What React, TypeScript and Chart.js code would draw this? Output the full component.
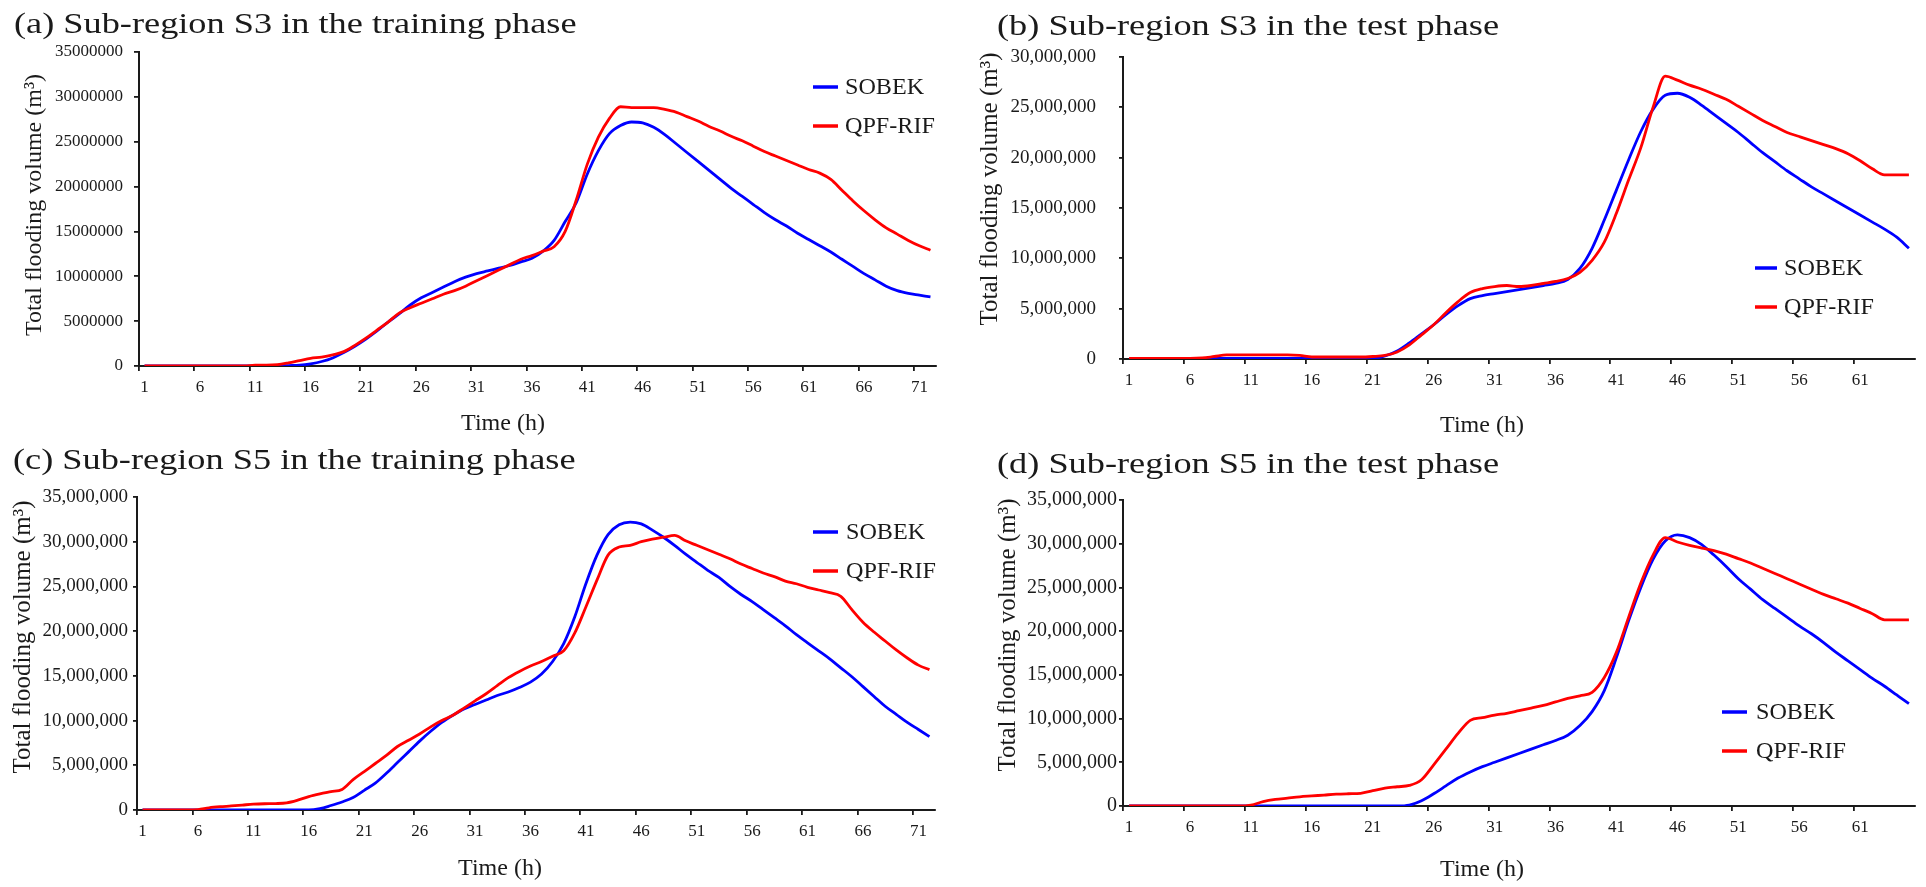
import React, { useEffect, useRef } from 'react';
import { Chart, registerables } from 'chart.js';

Chart.register(...registerables);

const M = 1e6;

const hours72 = Array.from({ length: 72 }, (_, i) => String(i + 1));
const hours65 = Array.from({ length: 65 }, (_, i) => String(i + 1));

// (a) Sub-region S3, training phase (million m3)
const sobekS3Train = [0,0,0,0,0,0,0,0,0,0,0,0,0,0.05,0.1,0.25,0.5,0.9,1.5,2.2,3.0,3.9,4.9,5.8,6.8,7.6,8.2,8.8,9.4,9.9,10.3,10.6,10.9,11.2,11.6,12.0,12.8,14.0,16.1,18.2,21.4,24.0,25.9,26.8,27.2,27.1,26.6,25.8,24.8,23.8,22.8,21.8,20.8,19.8,18.9,18.0,17.1,16.3,15.6,14.8,14.1,13.4,12.7,11.9,11.1,10.3,9.6,8.9,8.4,8.1,7.9,7.7];
const qpfS3Train = [0,0,0,0,0,0,0,0,0,0,0.1,0.1,0.15,0.35,0.6,0.85,1.0,1.25,1.6,2.3,3.1,4.0,4.9,5.9,6.5,7.0,7.5,8.0,8.4,8.9,9.5,10.1,10.7,11.3,11.9,12.3,12.8,13.3,15.0,18.5,22.5,25.5,27.6,28.9,28.8,28.8,28.8,28.6,28.3,27.8,27.3,26.7,26.2,25.6,25.1,24.5,23.9,23.4,22.9,22.4,21.9,21.5,20.8,19.6,18.4,17.3,16.3,15.4,14.7,14.0,13.4,12.9];

// (b) Sub-region S3, test phase
const sobekS3Test = [0,0,0,0,0,0,0.05,0.05,0.05,0.05,0.05,0.05,0.05,0.05,0.05,0.05,0.05,0.05,0.05,0.05,0.05,0.3,0.8,1.6,2.5,3.4,4.4,5.3,6.0,6.3,6.5,6.7,6.9,7.1,7.3,7.5,7.9,9.0,11.0,13.8,16.8,19.8,22.6,24.8,26.2,26.4,26.0,25.2,24.3,23.4,22.5,21.5,20.5,19.6,18.7,17.9,17.1,16.4,15.7,15.0,14.3,13.6,12.9,12.1,11.0];
const qpfS3Test = [0.05,0.05,0.05,0.05,0.05,0.05,0.1,0.25,0.4,0.4,0.4,0.4,0.4,0.4,0.35,0.2,0.2,0.2,0.2,0.2,0.25,0.35,0.7,1.4,2.4,3.4,4.6,5.7,6.6,7.0,7.2,7.3,7.2,7.3,7.5,7.7,8.0,8.6,9.8,11.6,14.5,17.8,21.0,25.0,28.1,27.7,27.2,26.8,26.3,25.8,25.1,24.4,23.7,23.1,22.5,22.1,21.7,21.3,20.9,20.4,19.7,18.9,18.3,18.3,18.3];

// (c) Sub-region S5, training phase
const sobekS5Train = [0,0,0,0,0,0,0,0,0,0,0,0,0,0,0,0,0.15,0.5,0.9,1.4,2.2,3.0,4.1,5.3,6.5,7.7,8.8,9.8,10.6,11.3,11.8,12.3,12.8,13.2,13.7,14.3,15.2,16.6,18.6,21.6,25.3,28.5,30.8,31.9,32.2,32.0,31.3,30.5,29.6,28.6,27.7,26.8,26.0,25.0,24.1,23.3,22.4,21.5,20.6,19.6,18.7,17.8,16.9,15.9,14.9,13.8,12.7,11.6,10.7,9.8,9.0,8.2];
const qpfS5Train = [0,0,0,0,0,0.05,0.25,0.37,0.45,0.55,0.65,0.7,0.72,0.8,1.1,1.5,1.8,2.05,2.3,3.4,4.3,5.2,6.1,7.1,7.8,8.5,9.3,10.0,10.6,11.4,12.2,13.0,13.9,14.8,15.5,16.1,16.6,17.2,17.8,19.8,22.7,25.7,28.5,29.4,29.6,30.0,30.3,30.5,30.7,30.1,29.6,29.1,28.6,28.1,27.5,27.0,26.5,26.1,25.6,25.3,24.9,24.6,24.3,23.9,22.4,21.0,19.9,18.9,17.9,17.0,16.2,15.7];

// (d) Sub-region S5, test phase
const sobekS5Test = [0,0,0,0,0,0,0,0,0,0,0,0,0,0,0,0,0,0,0,0,0,0,0,0.1,0.6,1.4,2.3,3.2,3.9,4.5,5.0,5.5,6.0,6.5,7.0,7.5,8.1,9.2,10.8,13.2,17.0,21.2,25.0,28.2,30.3,31.0,30.7,29.9,28.7,27.4,26.0,24.8,23.6,22.6,21.6,20.6,19.7,18.7,17.6,16.6,15.6,14.6,13.7,12.7,11.7];
const qpfS5Test = [0,0,0,0,0,0,0,0,0,0,0.1,0.5,0.75,0.9,1.05,1.15,1.25,1.35,1.4,1.45,1.75,2.05,2.2,2.35,3.0,4.7,6.5,8.3,9.8,10.1,10.4,10.6,10.9,11.2,11.5,11.9,12.3,12.6,13.0,14.7,17.6,21.6,25.5,28.7,30.7,30.2,29.8,29.5,29.2,28.8,28.3,27.8,27.2,26.6,26.0,25.4,24.8,24.2,23.7,23.2,22.6,22.0,21.3,21.3,21.3];

const yTicks35 = [0, 5, 10, 15, 20, 25, 30, 35];
const yTicks30 = [0, 5, 10, 15, 20, 25, 30];

const SERIF = '"Liberation Serif", "Times New Roman", serif';
const INK = '#1a1a1a';
const BLUE = '#0000ff';
const RED = '#ff0000';

type Panel = {
  key: string;
  box: { left: number; top: number; width: number; height: number };
  area: { l: number; r: number; t: number; b: number };
  labels: string[];
  sobek: number[];
  qpf: number[];
  yTicks: number[];
  commas: boolean;
  yFont: number;
  yTickLen: number;
  yPad: number;
  title: string;
  titlePos: [number, number];
  yTitlePos: [number, number];
  yTitleSize: number;
  xTitlePos: [number, number];
  legend: { x1: number; x2: number; tx: number; y1: number; y2: number };
};

const panels: Panel[] = [
  {
    key: 'a',
    box: { left: 0, top: 0, width: 963, height: 443 },
    area: { l: 139, r: 936, t: 52, b: 366 },
    labels: hours72, sobek: sobekS3Train, qpf: qpfS3Train,
    yTicks: yTicks35, commas: false, yFont: 17, yTickLen: 5, yPad: 11,
    title: '(a) Sub-region S3 in the training phase', titlePos: [14, 33],
    yTitlePos: [35, 205], yTitleSize: 24, xTitlePos: [503, 424],
    legend: { x1: 813, x2: 838, tx: 845, y1: 87, y2: 126 },
  },
  {
    key: 'b',
    box: { left: 963, top: 0, width: 963, height: 443 },
    area: { l: 1123, r: 1915, t: 57, b: 359 },
    labels: hours65, sobek: sobekS3Test, qpf: qpfS3Test,
    yTicks: yTicks30, commas: true, yFont: 19, yTickLen: 4, yPad: 23,
    title: '(b) Sub-region S3 in the test phase', titlePos: [997, 35],
    yTitlePos: [990, 189], yTitleSize: 25, xTitlePos: [1482, 426],
    legend: { x1: 1755, x2: 1777, tx: 1784, y1: 268, y2: 307 },
  },
  {
    key: 'c',
    box: { left: 0, top: 443, width: 963, height: 444 },
    area: { l: 137, r: 935, t: 497, b: 810 },
    labels: hours72, sobek: sobekS5Train, qpf: qpfS5Train,
    yTicks: yTicks35, commas: true, yFont: 19, yTickLen: 4, yPad: 5,
    title: '(c) Sub-region S5 in the training phase', titlePos: [13, 469],
    yTitlePos: [23, 637], yTitleSize: 25, xTitlePos: [500, 869],
    legend: { x1: 813, x2: 838, tx: 846, y1: 532, y2: 571 },
  },
  {
    key: 'd',
    box: { left: 963, top: 443, width: 963, height: 444 },
    area: { l: 1123, r: 1915, t: 500, b: 806 },
    labels: hours65, sobek: sobekS5Test, qpf: qpfS5Test,
    yTicks: yTicks35, commas: true, yFont: 20, yTickLen: 4, yPad: 2,
    title: '(d) Sub-region S5 in the test phase', titlePos: [997, 473],
    yTitlePos: [1008, 635], yTitleSize: 25, xTitlePos: [1482, 870],
    legend: { x1: 1722, x2: 1747, tx: 1756, y1: 712, y2: 751 },
  },
];

function decorPlugin(p: Panel) {
  return {
    id: 'decor_' + p.key,
    afterDraw(chart: any) {
      const ctx: CanvasRenderingContext2D = chart.ctx;
      const ox = p.box.left;
      const oy = p.box.top;
      ctx.save();
      ctx.fillStyle = INK;

      // panel title (slightly wide, as in the figure)
      ctx.save();
      ctx.font = `30px ${SERIF}`;
      ctx.textAlign = 'left';
      ctx.textBaseline = 'alphabetic';
      ctx.translate(p.titlePos[0] - ox, p.titlePos[1] - oy);
      ctx.scale(1.21, 1);
      ctx.fillText(p.title, 0, 0);
      ctx.restore();

      // y axis title
      ctx.save();
      ctx.font = `${p.yTitleSize}px ${SERIF}`;
      ctx.textAlign = 'center';
      ctx.textBaseline = 'middle';
      ctx.translate(p.yTitlePos[0] - ox, p.yTitlePos[1] - oy);
      ctx.rotate(-Math.PI / 2);
      ctx.fillText('Total flooding volume (m\u00B3)', 0, 0);
      ctx.restore();

      // x axis title
      ctx.save();
      ctx.font = `24px ${SERIF}`;
      ctx.textAlign = 'center';
      ctx.textBaseline = 'middle';
      ctx.fillText('Time (h)', p.xTitlePos[0] - ox, p.xTitlePos[1] - oy);
      ctx.restore();

      // legend
      const items: [string, string, number][] = [
        ['SOBEK', BLUE, p.legend.y1],
        ['QPF-RIF', RED, p.legend.y2],
      ];
      for (const [label, color, y] of items) {
        ctx.save();
        ctx.strokeStyle = color;
        ctx.lineWidth = 3.5;
        ctx.beginPath();
        ctx.moveTo(p.legend.x1 - ox, y - oy);
        ctx.lineTo(p.legend.x2 - ox, y - oy);
        ctx.stroke();
        ctx.font = `23px ${SERIF}`;
        ctx.textAlign = 'left';
        ctx.textBaseline = 'middle';
        ctx.translate(p.legend.tx - ox, y - oy + 1);
        ctx.scale(1.05, 1);
        ctx.fillText(label, 0, 0);
        ctx.restore();
      }
      ctx.restore();
    },
  };
}

function PanelChart({ p }: { p: Panel }) {
  const ref = useRef<HTMLCanvasElement | null>(null);
  useEffect(() => {
    if (!ref.current) return;
    const { box, area } = p;
    const yMax = p.yTicks[p.yTicks.length - 1] * M;
    const chart = new Chart(ref.current, {
      type: 'line',
      data: {
        labels: p.labels,
        datasets: [
          {
            label: 'SOBEK',
            data: p.sobek.map((v) => v * M),
            borderColor: BLUE,
            backgroundColor: BLUE,
            borderWidth: 2.8,
            pointRadius: 0,
            cubicInterpolationMode: 'monotone',
            fill: false,
            order: 1,
          },
          {
            label: 'QPF-RIF',
            data: p.qpf.map((v) => v * M),
            borderColor: RED,
            backgroundColor: RED,
            borderWidth: 2.8,
            pointRadius: 0,
            cubicInterpolationMode: 'monotone',
            fill: false,
            order: 0,
          },
        ],
      },
      options: {
        responsive: false,
        maintainAspectRatio: false,
        animation: false,
        events: [],
        devicePixelRatio: 1,
        layout: {
          padding: {
            left: 0,
            top: area.t - box.top,
            right: box.left + box.width - area.r,
            bottom: 0,
          },
        },
        plugins: {
          legend: { display: false },
          title: { display: false },
          tooltip: { enabled: false },
        },
        scales: {
          x: {
            type: 'category',
            offset: true,
            afterFit: (scale: any) => {
              scale.height = box.top + box.height - area.b;
            },
            grid: {
              offset: true,
              drawOnChartArea: false,
              drawTicks: true,
              tickLength: 5,
              lineWidth: 1.8,
              color: (c: any) => (c.index % 5 === 0 ? INK : 'rgba(0,0,0,0)'),
            },
            border: { display: true, color: INK, width: 2 },
            ticks: {
              autoSkip: false,
              maxRotation: 0,
              minRotation: 0,
              padding: 6,
              color: INK,
              font: { family: SERIF, size: 17 },
              callback: (_v: any, i: number) => (i % 5 === 0 ? p.labels[i] : ''),
            },
          },
          y: {
            type: 'linear',
            min: 0,
            max: yMax,
            afterFit: (scale: any) => {
              scale.width = area.l - box.left;
            },
            afterBuildTicks: (scale: any) => {
              scale.ticks = p.yTicks.map((t) => ({ value: t * M }));
            },
            grid: {
              drawOnChartArea: false,
              drawTicks: true,
              tickLength: p.yTickLen,
              lineWidth: 1.8,
              color: INK,
            },
            border: { display: true, color: INK, width: 2 },
            ticks: {
              padding: p.yPad,
              color: INK,
              font: { family: SERIF, size: p.yFont },
              callback: (v: any) =>
                p.commas ? Number(v).toLocaleString('en-US') : String(Math.round(Number(v))),
            },
          },
        },
      },
      plugins: [decorPlugin(p)],
    });
    return () => chart.destroy();
  }, [p]);

  return (
    <canvas
      ref={ref}
      width={p.box.width}
      height={p.box.height}
      style={{
        position: 'absolute',
        left: p.box.left,
        top: p.box.top,
        width: p.box.width,
        height: p.box.height,
      }}
    />
  );
}

export default function App() {
  return (
    <div
      style={{
        position: 'absolute',
        left: 0,
        top: 0,
        width: 1926,
        height: 887,
        background: '#ffffff',
        overflow: 'hidden',
      }}
    >
      {panels.map((p) => (
        <PanelChart key={p.key} p={p} />
      ))}
    </div>
  );
}
